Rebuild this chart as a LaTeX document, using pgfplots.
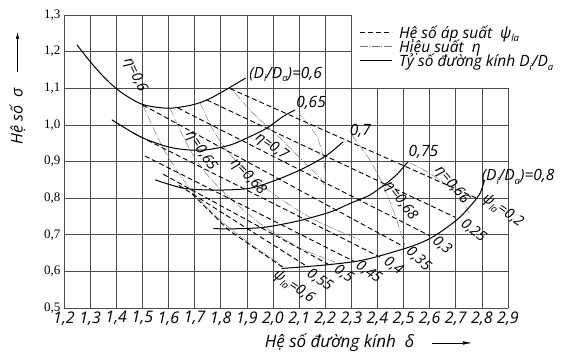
\documentclass[border=0pt]{standalone}
\usepackage{pgfplots}
\pgfplotsset{compat=1.18}
\usepackage{fontspec}
\setmainfont{Liberation Serif}
\newfontfamily\sanf{Open Sans}
\usetikzlibrary{arrows.meta}
\newcommand\lf{\sanf\itshape\fontsize{15.5}{17}\selectfont}
\newcommand\lfs{\sanf\itshape\fontsize{14.5}{16}\selectfont}
\newcommand\sub[1]{\raisebox{-0.45ex}{\fontsize{9.5}{9.5}\selectfont #1}}
\tikzset{
  psi/.style={black, line width=0.9pt, dash pattern=on 5pt off 3pt},
  eta/.style={black!55, line width=0.45pt, dash pattern=on 8pt off 1.5pt on 1pt off 1.5pt},
  dia/.style={black, line width=1pt},
  gridc/.style={black!70, line width=0.6pt},
}
\begin{document}
\begin{tikzpicture}
\begin{axis}[
  at={(0pt,0pt)}, anchor=south west,
  width=444pt, height=293pt, scale only axis,
  xmin=1.2, xmax=2.9, ymin=0.5, ymax=1.3,
  xtick={1.2,1.3,1.4,1.5,1.6,1.7,1.8,1.9,2.0,2.1,2.2,2.3,2.4,2.5,2.6,2.7,2.8,2.9},
  ytick={0.5,0.6,0.7,0.8,0.9,1.0,1.1,1.2,1.3},
  axis line style={draw=none},
  major tick length=0pt,
  /pgf/number format/assume math mode=true,
  /pgf/number format/fixed,
  /pgf/number format/fixed zerofill,
  /pgf/number format/precision=1,
  /pgf/number format/use comma,
  xticklabel style={font=\sanf\itshape\fontsize{16}{16}\selectfont, inner xsep=0pt},
  yticklabel style={font=\fontsize{13}{13}\selectfont},
  clip=false,
  legend style={at={(axis cs:2.318,1.283)}, anchor=north west,
    draw=none, fill=none, font=\fontsize{15.5}{16}\sanf\itshape, row sep=-4pt, legend cell align=left,
    /tikz/every odd column/.append style={column sep=5pt}},
  legend image code/.code={\draw[#1] (0pt,0pt) -- (32pt,0pt);},
]
% grid
\pgfplotsinvokeforeach{1.2,1.3,1.4,1.5,1.6,1.7,1.8,1.9,2.0,2.1,2.2,2.3}{
  \draw[gridc] (axis cs:#1,0.5) -- (axis cs:#1,1.3);}
\pgfplotsinvokeforeach{2.4,2.5,2.6,2.7,2.8,2.9}{
  \draw[gridc] (axis cs:#1,0.5) -- (axis cs:#1,1.1);}
\pgfplotsinvokeforeach{0.5,0.6,0.7,0.8,0.9,1.0,1.1}{
  \draw[gridc] (axis cs:1.2,#1) -- (axis cs:2.9,#1);}
\pgfplotsinvokeforeach{1.2,1.3}{
  \draw[gridc] (axis cs:1.2,#1) -- (axis cs:2.3,#1);}

\addlegendimage{psi}\addlegendentry{Hệ số áp suất\ \ ψ\sub{la}}
\addlegendimage{eta}\addlegendentry{Hiệu suất\ \ η}
\addlegendimage{dia}\addlegendentry{Tỷ số đường kính D\sub{i}/D\sub{a}}

% eta lines
\addplot[eta, smooth, forget plot] coordinates {(1.502,1.054)(1.537,0.999)(1.579,0.937)(1.636,0.871)(1.709,0.803)(1.805,0.735)(1.920,0.672)(2.038,0.615)};
\addplot[eta, smooth, forget plot] coordinates {(1.606,1.046)(1.644,0.986)(1.694,0.918)(1.759,0.855)(1.843,0.795)(1.958,0.727)(2.103,0.664)(2.237,0.626)};
\addplot[eta, smooth, forget plot] coordinates {(1.721,1.060)(1.767,0.991)(1.828,0.926)(1.912,0.863)(2.019,0.803)(2.161,0.740)(2.333,0.686)};
\addplot[eta, smooth, forget plot] coordinates {(1.855,1.087)(1.931,1.027)(2.027,0.964)(2.103,0.910)(2.180,0.855)(2.199,0.836)(2.195,0.904)(2.165,0.972)(2.104,1.027)};
\addplot[eta, smooth, forget plot] coordinates {(2.303,0.972)(2.371,0.904)(2.421,0.836)(2.467,0.754)(2.505,0.672)};
\addplot[eta, smooth, forget plot] coordinates {(2.525,0.896)(2.593,0.871)(2.666,0.836)(2.724,0.795)(2.754,0.754)};

% psi lines
\addplot[psi, forget plot] coordinates {(1.836,1.099)(2.780,0.800)};
\addplot[psi, forget plot] coordinates {(1.747,1.068)(2.697,0.748)};
\addplot[psi, forget plot] coordinates {(1.636,1.046)(2.601,0.697)};
\addplot[psi, forget plot] coordinates {(1.502,1.054)(2.502,0.667)};
\addplot[psi, forget plot] coordinates {(1.464,0.978)(2.410,0.639)};
\addplot[psi, forget plot] coordinates {(1.510,0.915)(2.314,0.626)};
\addplot[psi, forget plot] coordinates {(1.580,0.865)(2.218,0.617)};
\addplot[psi, forget plot] coordinates {(1.640,0.835)(2.134,0.612)};
\addplot[psi, forget plot] coordinates {(1.690,0.812)(1.830,0.713)(2.042,0.609)};

% diameter ratio curves
\addplot[dia, smooth, forget plot] coordinates {(1.249,1.219)(1.300,1.173)(1.351,1.132)(1.402,1.098)(1.453,1.073)(1.504,1.055)(1.568,1.047)(1.618,1.046)(1.694,1.055)(1.747,1.068)(1.798,1.087)(1.896,1.128)};
\addplot[dia, smooth, forget plot] coordinates {(1.383,1.014)(1.491,0.968)(1.593,0.941)(1.670,0.932)(1.746,0.932)(1.836,0.945)(1.912,0.968)(1.976,0.991)(2.039,1.023)(2.085,1.041)};
\addplot[dia, smooth, forget plot] coordinates {(1.549,0.850)(1.658,0.827)(1.785,0.822)(1.912,0.827)(2.014,0.850)(2.116,0.881)(2.206,0.917)(2.269,0.954)};
\addplot[dia, smooth, forget plot] coordinates {(1.772,0.717)(1.836,0.716)(1.962,0.720)(2.092,0.737)(2.219,0.762)(2.300,0.787)(2.370,0.808)(2.430,0.838)(2.475,0.865)(2.518,0.900)};
\addplot[dia, smooth, forget plot] coordinates {(2.033,0.608)(2.193,0.617)(2.346,0.631)(2.525,0.667)(2.614,0.695)(2.703,0.740)(2.754,0.777)(2.793,0.813)(2.810,0.850)};

% curve labels
\node[font=\lf, anchor=west, inner sep=1pt] at (axis cs:1.905,1.138) {(D\sub{i}/D\sub{a})=0,6};
\node[font=\lf, anchor=west, inner sep=1pt] at (axis cs:2.085,1.060) {0,65};
\node[font=\lf, anchor=west, inner sep=1pt] at (axis cs:2.290,0.983) {0,7};
\node[font=\lf, anchor=west, inner sep=1pt] at (axis cs:2.515,0.926) {0,75};
\node[font=\lf, anchor=west, inner sep=1pt] at (axis cs:2.795,0.858) {(D\sub{i}/D\sub{a})=0,8};

\node[font=\lfs, rotate=-65, inner sep=1pt] at (axis cs:1.472,1.136) {η=0,6};
\node[font=\lfs, rotate=-56, inner sep=1pt] at (axis cs:1.724,0.928) {η=0,65};
\node[font=\lfs, rotate=-47, inner sep=1pt] at (axis cs:1.905,0.858) {η=0,68};
\node[font=\lfs, rotate=-35, inner sep=1pt] at (axis cs:1.995,0.940) {η=0,7};
\node[font=\lfs, rotate=-52, inner sep=1pt] at (axis cs:2.488,0.792) {η=0,68};
\node[font=\lfs, rotate=-50, inner sep=1pt] at (axis cs:2.685,0.836) {η=0,66};

\node[font=\lfs, rotate=-35, inner sep=1pt] at (axis cs:2.880,0.766) {ψ\sub{la}=0,2};
\node[font=\lfs, rotate=-38, inner sep=1pt] at (axis cs:2.768,0.712) {0,25};
\node[font=\lfs, rotate=-40, inner sep=1pt] at (axis cs:2.648,0.672) {0,3};
\node[font=\lfs, rotate=-42, inner sep=1pt] at (axis cs:2.558,0.634) {0,35};
\node[font=\lfs, rotate=-35, inner sep=1pt] at (axis cs:2.462,0.616) {0,4};
\node[font=\lfs, rotate=-35, inner sep=1pt] at (axis cs:2.367,0.598) {0,45};
\node[font=\lfs, rotate=-35, inner sep=1pt] at (axis cs:2.272,0.594) {0,5};
\node[font=\lfs, rotate=-35, inner sep=1pt] at (axis cs:2.180,0.577) {0,55};
\node[font=\lfs, rotate=-35, inner sep=1pt] at (axis cs:2.080,0.558) {ψ\sub{la}=0,6};

% axis titles
\node[font=\sanf\itshape\fontsize{16}{16}\selectfont, rotate=90] at (axis cs:1.022,1.024) {Hệ số\ \ σ};
\draw[black, line width=0.6pt, -{Latex[length=7pt,width=3.5pt]}] (axis cs:1.022,1.144) -- (axis cs:1.022,1.254);
\node[font=\sanf\itshape\fontsize{17}{17}\selectfont] at (axis cs:2.255,0.4045) {Hệ số đường kính\ \ δ};
\draw[black, line width=0.6pt, -{Latex[length=9pt,width=3.5pt]}] (axis cs:2.609,0.4045) -- (axis cs:2.762,0.4045);
\end{axis}
\pgfresetboundingbox
\path (-64pt,-51pt) rectangle (524pt,308pt);
\end{tikzpicture}
\end{document}
